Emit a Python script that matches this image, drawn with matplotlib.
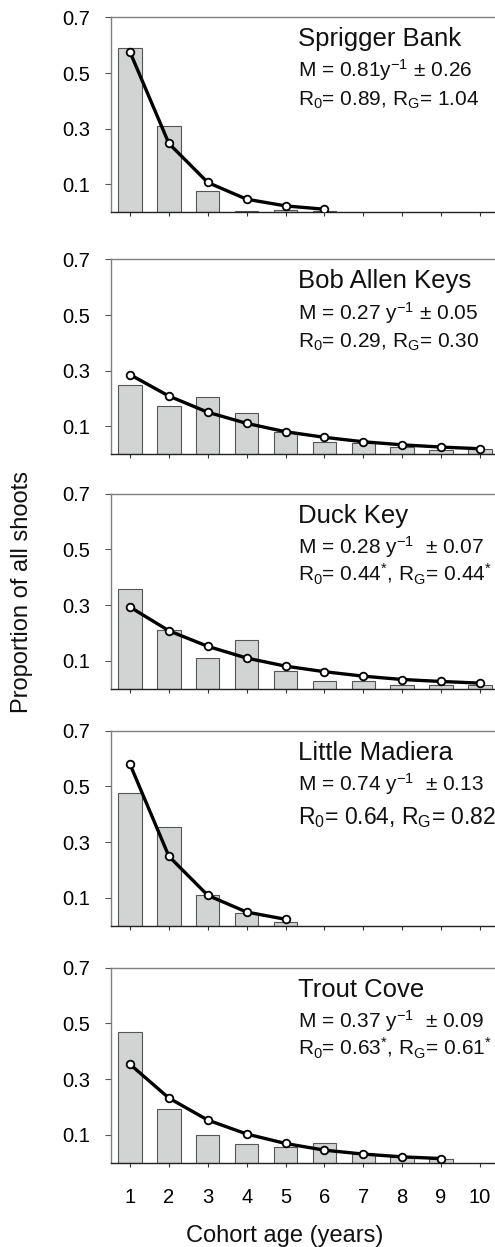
import matplotlib
matplotlib.use("Agg")
import matplotlib.pyplot as plt

plt.rcParams['font.family'] = ['Liberation Sans', 'DejaVu Sans']
plt.rcParams['mathtext.fontset'] = 'custom'
plt.rcParams['mathtext.rm'] = 'Liberation Sans'
plt.rcParams['mathtext.it'] = 'Liberation Sans'
plt.rcParams['mathtext.default'] = 'rm'

ages = [1, 2, 3, 4, 5, 6, 7, 8, 9, 10]

sites = ["Sprigger Bank", "Bob Allen Keys", "Duck Key", "Little Madiera", "Trout Cove"]

obs_sprigger = [0.589, 0.308, 0.078, 0.006, 0.007, 0.006]
obs_bob = [0.248, 0.173, 0.204, 0.147, 0.079, 0.045, 0.040, 0.028, 0.014, 0.020]
obs_duck = [0.358, 0.209, 0.112, 0.174, 0.065, 0.029, 0.029, 0.014, 0.014, 0.014]
obs_little = [0.475, 0.356, 0.111, 0.044, 0.012]
obs_trout = [0.469, 0.194, 0.100, 0.068, 0.056, 0.069, 0.030, 0.022, 0.013]

fit_sprigger = [0.575, 0.247, 0.107, 0.047, 0.023, 0.011]
fit_bob = [0.286, 0.209, 0.151, 0.111, 0.081, 0.061, 0.045, 0.034, 0.026, 0.020]
fit_duck = [0.293, 0.208, 0.152, 0.110, 0.081, 0.061, 0.045, 0.033, 0.026, 0.020]
fit_little = [0.579, 0.249, 0.109, 0.049, 0.023]
fit_trout = [0.353, 0.232, 0.153, 0.103, 0.069, 0.045, 0.031, 0.021, 0.015]

m_labels = [r"M = 0.81y$^{-1}$ $\pm$ 0.26",
            r"M = 0.27 y$^{-1}$ $\pm$ 0.05",
            r"M = 0.28 y$^{-1}$  $\pm$ 0.07",
            r"M = 0.74 y$^{-1}$  $\pm$ 0.13",
            r"M = 0.37 y$^{-1}$  $\pm$ 0.09"]
r_labels = [r"R$_0$= 0.89, R$_G$= 1.04",
            r"R$_0$= 0.29, R$_G$= 0.30",
            r"R$_0$= 0.44$^{*}$, R$_G$= 0.44$^{*}$",
            r"R$_0$= 0.64, R$_G$= 0.82",
            r"R$_0$= 0.63$^{*}$, R$_G$= 0.61$^{*}$"]
r_sizes = [15, 15, 15, 16.5, 15]

observed = [obs_sprigger, obs_bob, obs_duck, obs_little, obs_trout]
fitted = [fit_sprigger, fit_bob, fit_duck, fit_little, fit_trout]

yticks = [0.1, 0.3, 0.5, 0.7]
ytick_labels = ["0.1", "0.3", "0.5", "0.7"]

W, H = 495, 1247
fig = plt.figure(figsize=(W / 100, H / 100), dpi=100)

tops = [17.3, 259.3, 493.7, 730.7, 967.7]
ph = 195.0
left_px = 111
right_px = 495

for i in range(5):
    top = tops[i]
    ax = fig.add_axes([left_px / W, 1 - (top + ph) / H, (right_px - left_px) / W, ph / H])
    obs = observed[i]
    fit = fitted[i]
    ax.bar(ages[:len(obs)], obs, width=0.6, color='#d2d3d3', edgecolor='#555555', linewidth=0.8, zorder=2)
    ax.plot(ages[:len(fit)], fit, color='black', lw=2.4, marker='o', ms=5.5,
            mfc='white', mec='black', mew=1.3, zorder=3)
    ax.set_xlim(0.51, 10.39)
    ax.set_ylim(0, 0.7)
    ax.set_yticks(yticks)
    ax.set_yticklabels(ytick_labels, fontsize=14.5)
    ax.set_xticks(ages)
    if i == 4:
        ax.set_xticklabels([str(a) for a in ages], fontsize=14.5)
    else:
        ax.set_xticklabels([])
    ax.spines['right'].set_visible(False)
    ax.spines['top'].set_color('#808080')
    ax.spines['left'].set_color('#808080')
    ax.spines['bottom'].set_color('#222222')
    for s in ax.spines.values():
        s.set_linewidth(1.0)
    ax.tick_params(axis='y', direction='out', length=4, width=0.8, color='#555555', pad=11)
    ax.tick_params(axis='x', direction='out', length=3, width=0.8, color='#333333', pad=15)
    tx = (297.7 - left_px) / (right_px - left_px)
    ax.text(tx, 1 - 29 / ph, sites[i], transform=ax.transAxes, fontsize=18.5,
            va='baseline', ha='left', color='#111111')
    ax.text(tx, 1 - 60 / ph, m_labels[i], transform=ax.transAxes, fontsize=15,
            va='baseline', ha='left', color='#111111')
    rb = 93 if i == 3 else 88
    ax.text(tx, 1 - rb / ph, r_labels[i], transform=ax.transAxes, fontsize=r_sizes[i],
            va='baseline', ha='left', color='#111111')

fig.text(22 / W, 1 - 592 / H, "Proportion of all shoots", rotation=90, fontsize=17,
         ha='center', va='center', color='#111111')
fig.text(285 / W, 1 - 1236 / H, "Cohort age (years)", fontsize=17,
         ha='center', va='center', color='#111111')

fig.savefig("out.png", dpi=100)
